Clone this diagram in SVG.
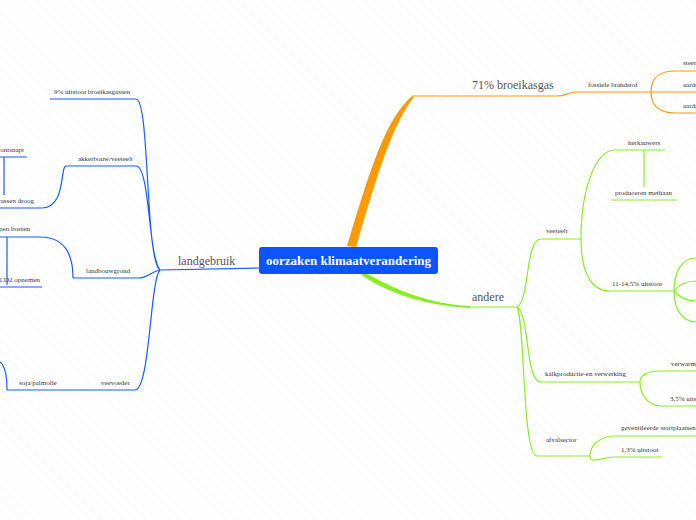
<svg xmlns="http://www.w3.org/2000/svg" width="696" height="520" viewBox="0 0 696 520">
<defs>
<pattern id="h" width="8" height="8" patternUnits="userSpaceOnUse" patternTransform="rotate(-45)"><line x1="0" y1="0" x2="0" y2="8" stroke="#f2f2f2" stroke-width="1"/></pattern>
<style>
.t{font-family:"Liberation Serif",serif;font-size:7px;fill:#333}
.b{font-family:"Liberation Serif",serif;font-size:12px;fill:#555}
.o{fill:none;stroke:#ff9900;stroke-width:1.2}
.g{fill:none;stroke:#88ee22;stroke-width:1.2}
.l{fill:none;stroke:#1a5cff;stroke-width:1.2}
</style>
</defs>
<rect width="696" height="520" fill="#fff"/>
<rect width="696" height="520" fill="url(#h)"/>
<g id="connectors">
<path d="M347,246 C370,170 385,120 412,96 L414,97 C392,125 377,175 356,247 Z" fill="#ff9900"/>
<path class="o" d="M412,96 L557,96 C567,96 567,92 578,92 L651,92 M651,92 C651,78 660,71 675,71 L696,71 M651,92 L696,92 M651,92 C651,106 660,113 675,113 L696,113"/>
<path d="M360,274 C390,295 430,306 470,308 L470,306 C430,304 395,290 368,274 Z" fill="#88ee22"/>
<path class="g" d="M470,307 L517,307 M517,307 C530,300 525,239 541,239 L581,239 M581,239 C581,190 595,150 615,150 L665,150 M644,150 L644,187 M611,200 L677,200 M581,239 C581,270 590,291 610,291 L674,291 M674,291 C674,270 683,258 696,258 M674,291 C680,283 688,281 696,281 M674,291 C680,298 688,301 696,301 M674,291 C674,310 683,322 696,322 M517,307 C530,315 525,382 541,382 L640,382 M640,382 C640,375 648,371 660,371 L696,371 M640,382 C640,395 648,406 662,406 L696,406 M517,307 C525,320 522,456 537,456 L590,456 M590,456 C590,445 600,436 615,436 L696,436 M590,456 C590,465 600,457 615,457 L662,457"/>
<path class="l" d="M259,268 L160,270 M160,270 C145,260 150,99 136,99 L50,99 M160,270 C148,255 150,166 136,166 L66,166 M66,166 C60,166 66,208 42,208 L0,208 M0,157 L27,157 M4,157 L4,195 M160,270 C150,272 148,278 138,278 L73,278 M73,278 C73,260 68,237 40,237 L0,237 M7,237 L7,285 M0,287 L42,287 M160,270 C150,280 150,390 135,390 L7,390 M7,390 C7,375 4,365 0,362"/>
</g>
<g id="center"><rect x="259" y="247" width="179" height="27" rx="3" fill="#0a55ff"/><text x="348.5" y="265" text-anchor="middle" style="font-family:'Liberation Serif',serif;font-size:13px;font-weight:bold;fill:#fff">oorzaken klimaatverandering</text></g>
<g id="n-broeikas"><text class="b" x="472" y="89">71% broeikasgas</text></g>
<g id="n-fossiel"><text class="t" x="588" y="87">fossiele brandstof</text><text class="t" x="683" y="65">steenkool</text><text class="t" x="683" y="87">aardolie</text><text class="t" x="683" y="108">aardgas</text></g>
<g id="n-andere"><text class="b" x="472" y="301">andere</text></g>
<g id="n-veeteelt"><text class="t" x="546" y="233">veeteelt</text><text class="t" x="628" y="145">herkauwers</text><text class="t" x="615" y="195">produceren methaan</text><text class="t" x="612" y="286">11-14,5% uitstoot</text></g>
<g id="n-kalk"><text class="t" x="545" y="376">kalkproductie-en verwerking</text><text class="t" x="671" y="366">verwarming</text><text class="t" x="670" y="401">3,5% uitstoot</text></g>
<g id="n-afval"><text class="t" x="546" y="442">afvalsector</text><text class="t" x="621" y="430">geventileerde stortplaatsen</text><text class="t" x="621" y="452">1,3% uitstoot</text></g>
<g id="n-landgebruik"><text class="b" x="178" y="265">landgebruik</text></g>
<g id="n-9"><text class="t" x="54" y="94">9% uitstoot broeikasgassen</text></g>
<g id="n-akker"><text class="t" x="78" y="161">akkerbouw/veeteelt</text><text class="t" x="24" y="152" text-anchor="end">methaan ontsnapt</text><text class="t" x="34" y="203" text-anchor="end">moerassen droog</text></g>
<g id="n-landbouw"><text class="t" x="86" y="273">landbouwgrond</text><text class="t" x="30" y="231" text-anchor="end">kappen bossen</text><text class="t" x="40" y="282" text-anchor="end">CO2 opnemen</text></g>
<g id="n-veevoeder"><text class="t" x="101" y="385">veevoeder</text><text class="t" x="19" y="385">soja/palmolie</text></g>
</svg>
